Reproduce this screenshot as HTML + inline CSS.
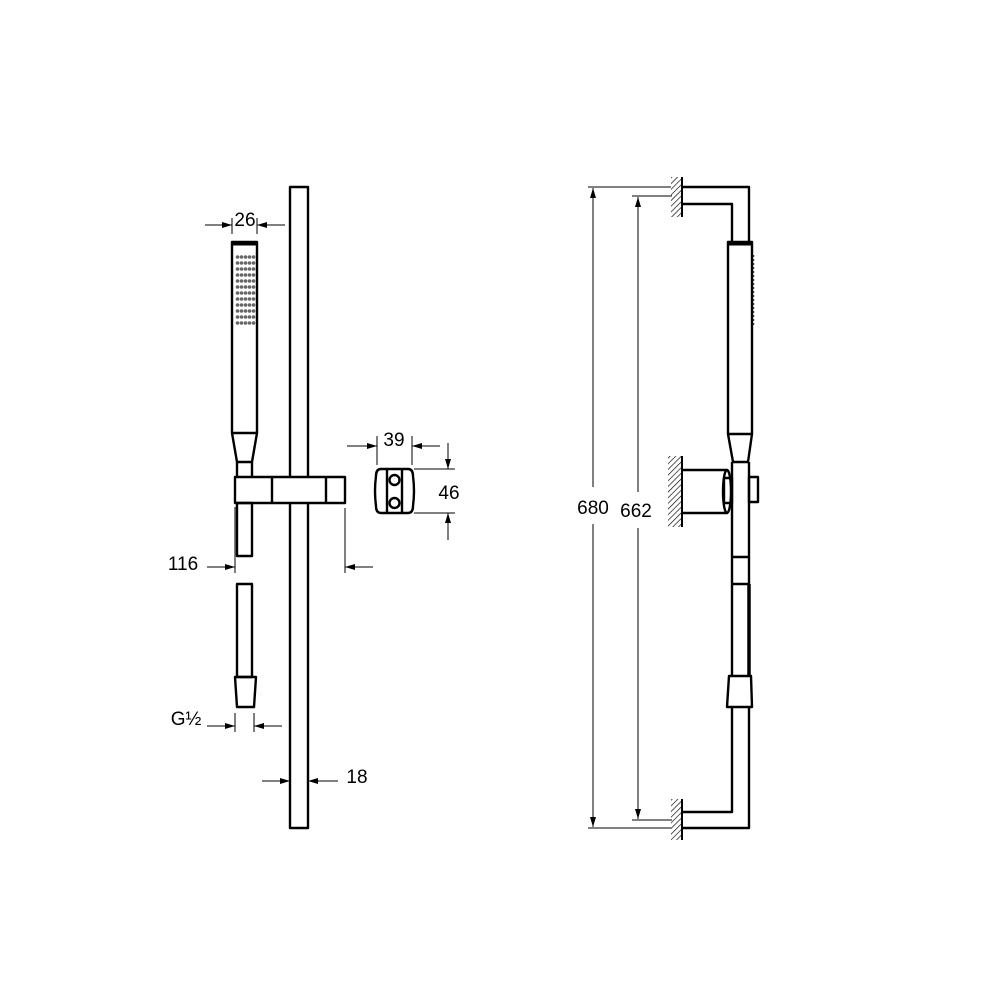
<!DOCTYPE html>
<html><head><meta charset="utf-8"><style>html,body{margin:0;padding:0;background:#fff}svg{display:block}</style></head><body>
<svg width="1000" height="1000" viewBox="0 0 1000 1000" xmlns="http://www.w3.org/2000/svg" font-family="Liberation Sans, sans-serif">
<defs>
<pattern id="h" width="4" height="4" patternUnits="userSpaceOnUse" patternTransform="rotate(45)"><line x1="0" y1="0" x2="0" y2="4" stroke="#000" stroke-width="1.3"/></pattern>
<marker id="a" viewBox="0 0 10 6" refX="10" refY="3" markerWidth="10" markerHeight="6" orient="auto" markerUnits="userSpaceOnUse"><path d="M0,0 L10,3 L0,6z" fill="#000"/></marker>
</defs>
<g fill="none" stroke="#000" stroke-width="2.4" stroke-linejoin="round">
<rect x="290" y="187" width="18" height="641"/>
<rect x="232" y="242" width="25" height="191"/>
<line x1="232" y1="244" x2="257" y2="244" stroke-width="3"/>
<path d="M232,433 L237,462 L252,462 L257,433"/>
<path d="M237,462 V477 M252,462 V477"/>
<rect x="235" y="477" width="110" height="26" fill="#fff"/>
<path d="M272,477 V503 M326,477 V503"/>
<rect x="237" y="503" width="15" height="53"/>
<rect x="237" y="584" width="15" height="93"/>
<path d="M235,677 L237,707 L254,707 L256,677 Z"/>
<path d="M381,469 H408 Q413,469 413,476 Q415,491 413,506 Q413,513 408,513 H381 Q376,513 376,506 Q374,491 376,476 Q376,469 381,469 Z"/>
<path d="M387,469 V513 M402,469 V513"/>
<circle cx="394.5" cy="480" r="5"/><circle cx="394.5" cy="503" r="5"/>
<path d="M682,187 H749 V242 M682,204 H732 V242"/>
<rect x="728" y="242" width="24" height="192"/>
<line x1="728" y1="244" x2="752" y2="244" stroke-width="3"/>
<path d="M728,434 L733,462 L748,462 L752,434"/>
<path d="M732,462 V676 M749,462 V676"/>
<path d="M749,584 V676" stroke-width="3.5"/>
<path d="M732,557 H749 M732,584 H749"/>
<path d="M682,470 H727 M682,513 H727"/>
<ellipse cx="727" cy="491.5" rx="4" ry="21.5"/>
<rect x="724" y="478" width="8" height="25"/>
<rect x="749" y="477" width="9" height="25"/>
<path d="M729,676 L727,707 L752,707 L751,676 Z"/>
<path d="M732,707 V812 H682 M749,707 V828 H682"/>
</g>
<g stroke="#000" stroke-width="1">
<rect x="671" y="177" width="11" height="40" fill="url(#h)" stroke="none"/>
<rect x="668" y="456" width="14" height="71" fill="url(#h)" stroke="none"/>
<rect x="671" y="799" width="11" height="41" fill="url(#h)" stroke="none"/>
<line x1="682" y1="177" x2="682" y2="217" stroke-width="2"/>
<line x1="682" y1="456" x2="682" y2="527" stroke-width="2"/>
<line x1="682" y1="799" x2="682" y2="840" stroke-width="2"/>
<line x1="588" y1="187" x2="671" y2="187"/>
<line x1="588" y1="828" x2="671" y2="828"/>
<line x1="632" y1="196" x2="672" y2="196"/>
<line x1="632" y1="820" x2="672" y2="820"/>
<line x1="593" y1="487" x2="593" y2="188" marker-end="url(#a)"/>
<line x1="593" y1="524" x2="593" y2="827" marker-end="url(#a)"/>
<line x1="638" y1="492" x2="638" y2="197" marker-end="url(#a)"/>
<line x1="638" y1="528" x2="638" y2="819" marker-end="url(#a)"/>
<line x1="232" y1="218" x2="232" y2="234"/><line x1="257" y1="218" x2="257" y2="234"/>
<line x1="205" y1="225" x2="232" y2="225" marker-end="url(#a)"/>
<line x1="285" y1="225" x2="257" y2="225" marker-end="url(#a)"/>
<line x1="235" y1="507" x2="235" y2="573"/><line x1="345" y1="508" x2="345" y2="573"/>
<line x1="207" y1="567" x2="235" y2="567" marker-end="url(#a)"/>
<line x1="373" y1="567" x2="345" y2="567" marker-end="url(#a)"/>
<line x1="377" y1="436" x2="377" y2="465"/><line x1="412" y1="436" x2="412" y2="465"/>
<line x1="347" y1="446" x2="377" y2="446" marker-end="url(#a)"/>
<line x1="440" y1="446" x2="412" y2="446" marker-end="url(#a)"/>
<line x1="414" y1="469" x2="455" y2="469"/><line x1="414" y1="513" x2="455" y2="513"/>
<line x1="448" y1="443" x2="448" y2="469" marker-end="url(#a)"/>
<line x1="448" y1="540" x2="448" y2="513" marker-end="url(#a)"/>
<line x1="235" y1="713" x2="235" y2="732"/><line x1="254" y1="713" x2="254" y2="732"/>
<line x1="207" y1="726" x2="235" y2="726" marker-end="url(#a)"/>
<line x1="282" y1="726" x2="254" y2="726" marker-end="url(#a)"/>
<line x1="262" y1="781" x2="290" y2="781" marker-end="url(#a)"/>
<line x1="338" y1="781" x2="308" y2="781" marker-end="url(#a)"/>
</g>
<g fill="#666">
<g id="dots">
<circle cx="237.5" cy="257" r="1.8"/><circle cx="241.5" cy="257" r="1.8"/><circle cx="245.5" cy="257" r="1.8"/><circle cx="249.5" cy="257" r="1.8"/><circle cx="253.5" cy="257" r="1.8"/>
</g>
<use href="#dots" y="6"/><use href="#dots" y="12"/><use href="#dots" y="18"/><use href="#dots" y="24"/><use href="#dots" y="30"/><use href="#dots" y="36"/><use href="#dots" y="42"/><use href="#dots" y="48"/><use href="#dots" y="54"/><use href="#dots" y="60"/><use href="#dots" y="66"/>
</g>
<line x1="753.5" y1="255" x2="753.5" y2="325" stroke="#333" stroke-width="1.5" stroke-dasharray="2,2"/>
<g font-size="19" fill="#000" text-anchor="middle">
<text x="245" y="226">26</text>
<text x="394" y="446">39</text>
<text x="449" y="499">46</text>
<text x="183" y="570">116</text>
<text x="186" y="725">G½</text>
<text x="357" y="783">18</text>
<text x="593" y="514">680</text>
<text x="636" y="517">662</text>
</g>
</svg>
</body></html>
